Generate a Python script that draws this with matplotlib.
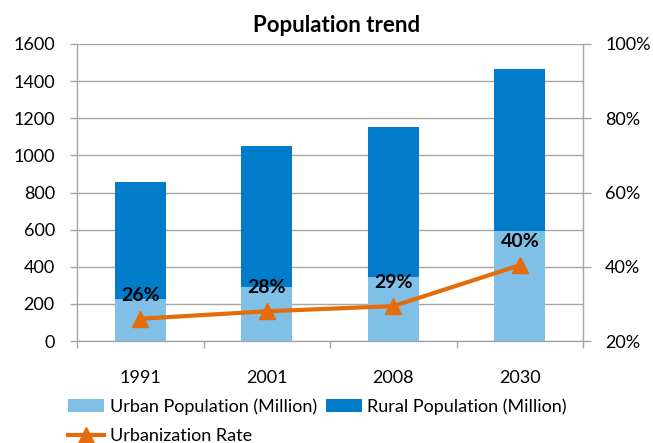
import matplotlib
matplotlib.use('Agg')
import matplotlib.pyplot as plt
import numpy as np

years = ['1991', '2001', '2008', '2030']
urban = [225, 293, 345, 593]  # Urban population, million
rural = [630, 755, 810, 875]  # Rural population, million
rate = [26, 28, 29.4, 40.4]  # Urbanization rate, %

plt.rcParams['font.family'] = ['Lato', 'DejaVu Sans']
plt.rcParams['font.size'] = 13

light = '#80BFE6'
dark = '#007CCB'
orange = '#E46C0A'
grey = '#A6A6A6'

fig = plt.figure(figsize=(6.53, 4.43), dpi=100)
ax = fig.add_axes([77 / 653, 1 - 341 / 443, 506 / 653, 297 / 443])

x = np.arange(len(years))
b1 = ax.bar(x, urban, width=0.4, color=light, label='Urban Population (Million)', zorder=2)
b2 = ax.bar(x, rural, width=0.4, bottom=urban, color=dark, label='Rural Population (Million)', zorder=2)

ax.set_xlim(-0.5, len(years) - 0.5)
ax.set_ylim(0, 1600)
ax.set_yticks(range(0, 1601, 200))
ax.yaxis.grid(True, color=grey, linewidth=1, zorder=0)
ax.set_axisbelow(True)
ax.set_xticks(x)
ax.set_xticklabels(years)
ax.set_xticks(np.arange(-0.5, len(years)), minor=True)
ax.tick_params(axis='x', which='major', length=0, pad=21)
ax.tick_params(axis='x', which='minor', length=5, color=grey, width=1)
ax.tick_params(axis='y', length=5, color=grey, width=1, pad=11)
for s in ['top', 'right']:
    ax.spines[s].set_visible(False)
for s in ['left', 'bottom']:
    ax.spines[s].set_color(grey)
    ax.spines[s].set_linewidth(1)

ax2 = ax.twinx()
ax2.set_ylim(20, 100)
ax2.set_yticks(range(20, 101, 20))
ax2.set_yticklabels([f'{v}%' for v in range(20, 101, 20)])
ax2.tick_params(axis='y', length=6, color=grey, width=1, pad=10)
for s in ['top', 'left', 'bottom']:
    ax2.spines[s].set_visible(False)
ax2.spines['right'].set_color(grey)
ax2.spines['right'].set_linewidth(1)

ln, = ax2.plot(x, rate, color=orange, linewidth=3, marker='^', markersize=11,
               label='Urbanization Rate', zorder=3)
for xi, r in zip(x, rate):
    ax2.annotate(f'{r:.0f}%', (xi, r), xytext=(0, 17), textcoords='offset points',
                 ha='center', va='center', fontsize=14, fontweight='bold')

fig.text(337 / 653, 1 - 25 / 443, 'Population trend', ha='center', va='center',
         fontsize=16, fontweight='bold')

fig.legend(handles=[b1, ln, b2], ncol=2, loc='upper left',
           bbox_to_anchor=(68 / 653, 1 - 398 / 443), frameon=False,
           borderpad=0, borderaxespad=0, handlelength=2.0, handletextpad=0.3,
           columnspacing=0.5, labelspacing=0.75)

fig.savefig('out.png', dpi=100)
